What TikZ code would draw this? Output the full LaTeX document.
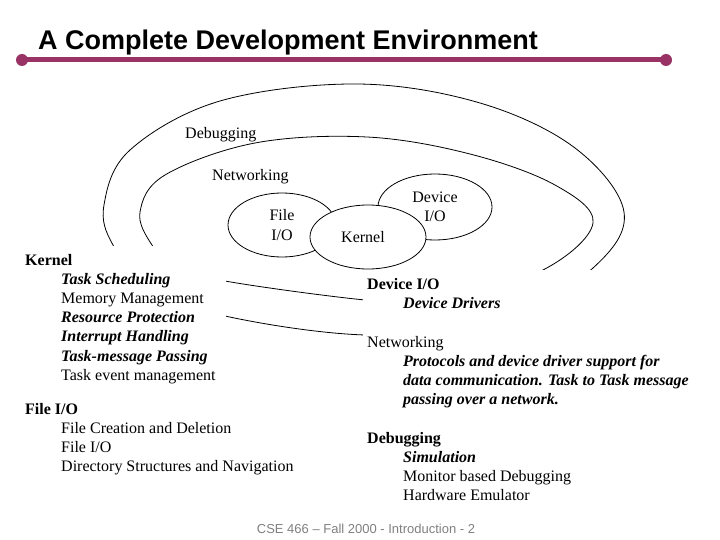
\documentclass[tikz,border=0pt]{standalone}
\usepackage{fontspec}
\setmainfont{Liberation Serif}
\setsansfont{Liberation Sans}
\usepackage{tikz}
\usetikzlibrary{shapes.geometric}
\definecolor{barpurple}{HTML}{993366}
\tikzset{
  lbl/.style={
    inner sep=0pt, font=\fontsize{16}{19.2}\selectfont
  },
  col/.style={
    lbl, align=left, anchor=base west
  },
  blob/.style={
    ellipse, draw=black, line width=0.8pt,
    inner sep=0pt, align=center, font=\fontsize{16}{19.2}\selectfont
  },
  ring/.style={
    line width=0.8pt
  },
}
\newcommand{\ind}{\hspace*{36pt}}
\newcommand{\bi}[1]{\textbf{\textit{#1}}}

\begin{document}
\begin{tikzpicture}[x=1pt,y=-1pt]
  \useasboundingbox (0,0) rectangle (720,540);
  % title bar
  \node[anchor=base west, inner sep=0pt,
        font=\sffamily\bfseries\fontsize{27}{30}\selectfont] (title) at (38,50)
    {A Complete Development Environment};
  \coordinate (barL) at (22,60);
  \coordinate (barR) at (666,60);
  \draw[barpurple, line width=5pt] (barL) -- (barR);
  \fill[barpurple] (barL) circle (6pt) (barR) circle (6pt);
  % the two outer rings
  \draw[ring] plot[smooth cycle, tension=0.6] coordinates {
    (113,245) (104,205) (130,150) (220,101) (357,84) (480,103)
    (575,148) (624,212) (593,268) (500,325) (365,335) (225,316) (150,288)};
  \draw[ring] plot[smooth cycle, tension=0.6] coordinates {
    (152,245) (140,212) (165,175) (255,143) (367,137) (470,154)
    (555,185) (593,223) (543,270) (440,302) (365,300) (225,281) (175,266)};
  % text columns sit on white
  \fill[white] (0,246) rectangle (226,540);
  \fill[white] (363,270) rectangle (720,540);
  % inner components
  \node[blob, minimum width=108pt, minimum height=64pt] (fio) at (282,225) {File\\I/O};
  \node[blob, minimum width=114pt, minimum height=66pt] (dio) at (435,207) {Device\\I/O};
  \node[blob, fill=white, minimum width=116pt, minimum height=64pt] (ker) at (368,237) {\hspace*{-10pt}Kernel};
  \node[lbl, anchor=base west] (dbglbl) at (185,139) {Debugging};
  \node[lbl, anchor=base west] (netlbl) at (212,181) {Networking};
  % left column (placed by the last line's baseline)
  \node[col] (kern) at (25,380.2) {\textbf{Kernel}\\
    \ind\bi{Task Scheduling}\\
    \ind Memory Management\\
    \ind\bi{Resource Protection}\\
    \ind\bi{Interrupt Handling}\\
    \ind\bi{Task-message Passing}\\
    \ind Task event management};
  \node[col] (file) at (25,471.6) {\textbf{File I/O}\\
    \ind File Creation and Deletion\\
    \ind File I/O\\
    \ind Directory Structures and Navigation};
  % right column
  \node[col] (dev) at (367,308.2) {\textbf{Device I/O}\\
    \ind\bi{Device Drivers}};
  \node[col] (netw) at (367,404.6) {Networking\\
    \ind\bi{Protocols and device driver support for}\\
    \ind\bi{data communication. Task to Task message}\\
    \ind\bi{passing over a network.}};
  \node[col] (debug) at (367,500.6) {\textbf{Debugging}\\
    \ind\bi{Simulation}\\
    \ind Monitor based Debugging\\
    \ind Hardware Emulator};
  \node[anchor=base, inner sep=0pt, text=gray,
        font=\sffamily\fontsize{13}{15}\selectfont] (foot) at (366,533)
    {CSE 466 – Fall 2000 - Introduction - 2};
\end{tikzpicture}
\end{document}
